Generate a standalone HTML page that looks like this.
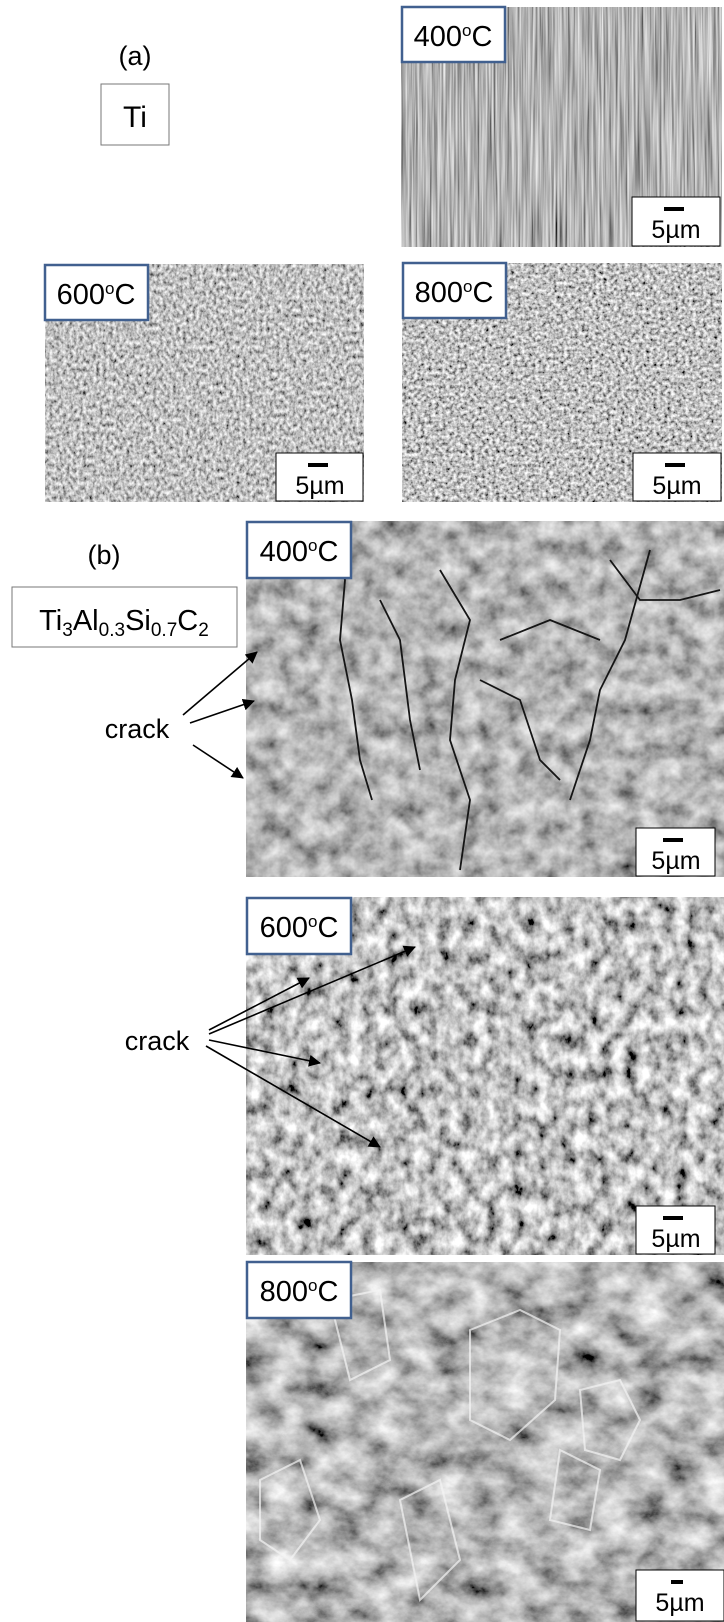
<!DOCTYPE html>
<html><head><meta charset="utf-8"><style>
html,body{margin:0;padding:0;background:#fff;}
svg{display:block;}
text{font-family:"Liberation Sans",Arial,sans-serif;}
</style></head><body>
<svg width="724" height="1622" viewBox="0 0 724 1622" xmlns="http://www.w3.org/2000/svg">
<defs>
<filter id="f1" x="0" y="0" width="100%" height="100%"><feTurbulence type="fractalNoise" baseFrequency="0.5 0.01" numOctaves="3" seed="3"/><feColorMatrix type="matrix" values="1.1 0 0 0 -0.1  1.1 0 0 0 -0.1  1.1 0 0 0 -0.1  0 0 0 0 1"/></filter>
<filter id="f2" x="0" y="0" width="100%" height="100%"><feTurbulence type="fractalNoise" baseFrequency="0.3 0.22" numOctaves="3" seed="5"/><feColorMatrix type="matrix" values="1.4 0 0 0 -0.17  1.4 0 0 0 -0.17  1.4 0 0 0 -0.17  0 0 0 0 1"/></filter>
<filter id="f3" x="0" y="0" width="100%" height="100%"><feTurbulence type="fractalNoise" baseFrequency="0.28" numOctaves="3" seed="8"/><feColorMatrix type="matrix" values="1.6 0 0 0 -0.27  1.6 0 0 0 -0.27  1.6 0 0 0 -0.27  0 0 0 0 1"/></filter>
<filter id="f4" x="0" y="0" width="100%" height="100%"><feTurbulence type="fractalNoise" baseFrequency="0.05" numOctaves="4" seed="11"/><feColorMatrix type="matrix" values="1.0 0 0 0 -0.04  1.0 0 0 0 -0.04  1.0 0 0 0 -0.04  0 0 0 0 1"/></filter>
<filter id="f5" x="0" y="0" width="100%" height="100%"><feTurbulence type="fractalNoise" baseFrequency="0.08 0.06" numOctaves="4" seed="15"/><feColorMatrix type="matrix" values="1.7 0 0 0 -0.32  1.7 0 0 0 -0.32  1.7 0 0 0 -0.32  0 0 0 0 1"/></filter>
<filter id="f6" x="0" y="0" width="100%" height="100%"><feTurbulence type="fractalNoise" baseFrequency="0.03 0.04" numOctaves="5" seed="21"/><feColorMatrix type="matrix" values="1.3 0 0 0 -0.17  1.3 0 0 0 -0.17  1.3 0 0 0 -0.17  0 0 0 0 1"/></filter>
<marker id="ah" markerWidth="12" markerHeight="12" refX="11" refY="6" orient="auto" markerUnits="userSpaceOnUse"><path d="M0,0 L12,6 L0,12 z" fill="#000"/></marker>
</defs>

<text x="135" y="65" font-size="27" text-anchor="middle">(a)</text>
<rect x="101" y="84" width="68" height="61" fill="#fff" stroke="#777" stroke-width="1"/>
<text x="135" y="127" font-size="30" text-anchor="middle">Ti</text>

<rect x="401" y="7" width="321" height="240" filter="url(#f1)"/>
<rect x="45" y="264" width="319" height="238" filter="url(#f2)"/>
<rect x="402" y="263" width="320" height="239" filter="url(#f3)"/>

<text x="104" y="564" font-size="27" text-anchor="middle">(b)</text>
<rect x="12" y="587" width="225" height="60" fill="#fff" stroke="#777" stroke-width="1"/>
<text x="124" y="630" font-size="29" text-anchor="middle">Ti<tspan font-size="19" dy="6">3</tspan><tspan dy="-6">Al</tspan><tspan font-size="19" dy="6">0.3</tspan><tspan dy="-6">Si</tspan><tspan font-size="19" dy="6">0.7</tspan><tspan dy="-6">C</tspan><tspan font-size="19" dy="6">2</tspan></text>

<rect x="246" y="521" width="480" height="356" filter="url(#f4)"/>
<g stroke="#151515" stroke-width="1.8" fill="none">
<path d="M330,525 L345,580 L340,640 L352,700 L360,760 L372,800"/>
<path d="M380,600 L400,640 L410,720 L420,770"/>
<path d="M440,570 L470,620 L455,680 L450,740 L470,800 L460,870"/>
<path d="M480,680 L520,700 L540,760 L560,780"/>
<path d="M610,560 L640,600 L680,600 L720,590"/>
<path d="M650,550 L625,640 L600,690 L590,740 L570,800"/>
<path d="M500,640 L550,620 L600,640"/>
</g>
<rect x="246" y="897" width="480" height="358" filter="url(#f5)"/>
<rect x="246" y="1262" width="480" height="360" filter="url(#f6)"/>
<g fill="none" stroke="#f4f4f4" stroke-width="2" opacity="0.7">
<path d="M470,1330 L520,1310 L560,1330 L555,1400 L510,1440 L470,1420 Z"/>
<path d="M580,1390 L620,1380 L640,1420 L620,1460 L585,1450 Z"/>
<path d="M260,1480 L300,1460 L320,1520 L290,1560 L260,1540 Z"/>
<path d="M330,1300 L380,1290 L390,1360 L350,1380 Z"/>
<path d="M560,1450 L600,1470 L590,1530 L550,1520 Z"/>
<path d="M400,1500 L440,1480 L460,1560 L420,1600 Z"/>
</g>

<text x="137" y="738" font-size="27" text-anchor="middle">crack</text>
<g stroke="#000" stroke-width="1.6" marker-end="url(#ah)">
<line x1="183" y1="715" x2="257" y2="652"/>
<line x1="190" y1="723" x2="254" y2="701"/>
<line x1="193" y1="745" x2="243" y2="778"/>
</g>
<text x="157" y="1050" font-size="27" text-anchor="middle">crack</text>
<g stroke="#000" stroke-width="1.6" marker-end="url(#ah)">
<line x1="209" y1="1030" x2="309" y2="978"/>
<line x1="209" y1="1034" x2="415" y2="947"/>
<line x1="209" y1="1040" x2="320" y2="1063"/>
<line x1="206" y1="1046" x2="380" y2="1147"/>
</g>

<g font-size="29">
<rect x="402" y="7" width="103" height="55" fill="#fff" stroke="#41608f" stroke-width="2.5"/>
<text x="453" y="46" text-anchor="middle">400<tspan font-size="17" dy="-10">o</tspan><tspan dy="10">C</tspan></text>
<rect x="45" y="265" width="103" height="55" fill="#fff" stroke="#41608f" stroke-width="2.5"/>
<text x="96" y="304" text-anchor="middle">600<tspan font-size="17" dy="-10">o</tspan><tspan dy="10">C</tspan></text>
<rect x="403" y="263" width="103" height="55" fill="#fff" stroke="#41608f" stroke-width="2.5"/>
<text x="454" y="302" text-anchor="middle">800<tspan font-size="17" dy="-10">o</tspan><tspan dy="10">C</tspan></text>
<rect x="247" y="522" width="104" height="56" fill="#fff" stroke="#41608f" stroke-width="2.5"/>
<text x="299" y="561" text-anchor="middle">400<tspan font-size="17" dy="-10">o</tspan><tspan dy="10">C</tspan></text>
<rect x="247" y="898" width="104" height="56" fill="#fff" stroke="#41608f" stroke-width="2.5"/>
<text x="299" y="937" text-anchor="middle">600<tspan font-size="17" dy="-10">o</tspan><tspan dy="10">C</tspan></text>
<rect x="247" y="1262" width="104" height="56" fill="#fff" stroke="#41608f" stroke-width="2.5"/>
<text x="299" y="1301" text-anchor="middle">800<tspan font-size="17" dy="-10">o</tspan><tspan dy="10">C</tspan></text>
</g>

<g font-size="25">
<rect x="632" y="197" width="88" height="49" fill="#fff" stroke="#000" stroke-width="1"/>
<rect x="664" y="207" width="20" height="4" fill="#000"/>
<text x="676" y="238" text-anchor="middle">5µm</text>
<rect x="276" y="453" width="87" height="48" fill="#fff" stroke="#000" stroke-width="1"/>
<rect x="308" y="463" width="20" height="4" fill="#000"/>
<text x="320" y="494" text-anchor="middle">5µm</text>
<rect x="633" y="453" width="88" height="48" fill="#fff" stroke="#000" stroke-width="1"/>
<rect x="665" y="463" width="20" height="4" fill="#000"/>
<text x="677" y="494" text-anchor="middle">5µm</text>
<rect x="636" y="828" width="79" height="48" fill="#fff" stroke="#000" stroke-width="1"/>
<rect x="663" y="838" width="20" height="4" fill="#000"/>
<text x="676" y="869" text-anchor="middle">5µm</text>
<rect x="636" y="1206" width="79" height="48" fill="#fff" stroke="#000" stroke-width="1"/>
<rect x="663" y="1216" width="20" height="4" fill="#000"/>
<text x="676" y="1247" text-anchor="middle">5µm</text>
<rect x="636" y="1570" width="88" height="51" fill="#fff" stroke="#000" stroke-width="1"/>
<rect x="671" y="1580" width="12" height="4" fill="#000"/>
<text x="680" y="1611" text-anchor="middle">5µm</text>
</g>
</svg>
</body></html>
